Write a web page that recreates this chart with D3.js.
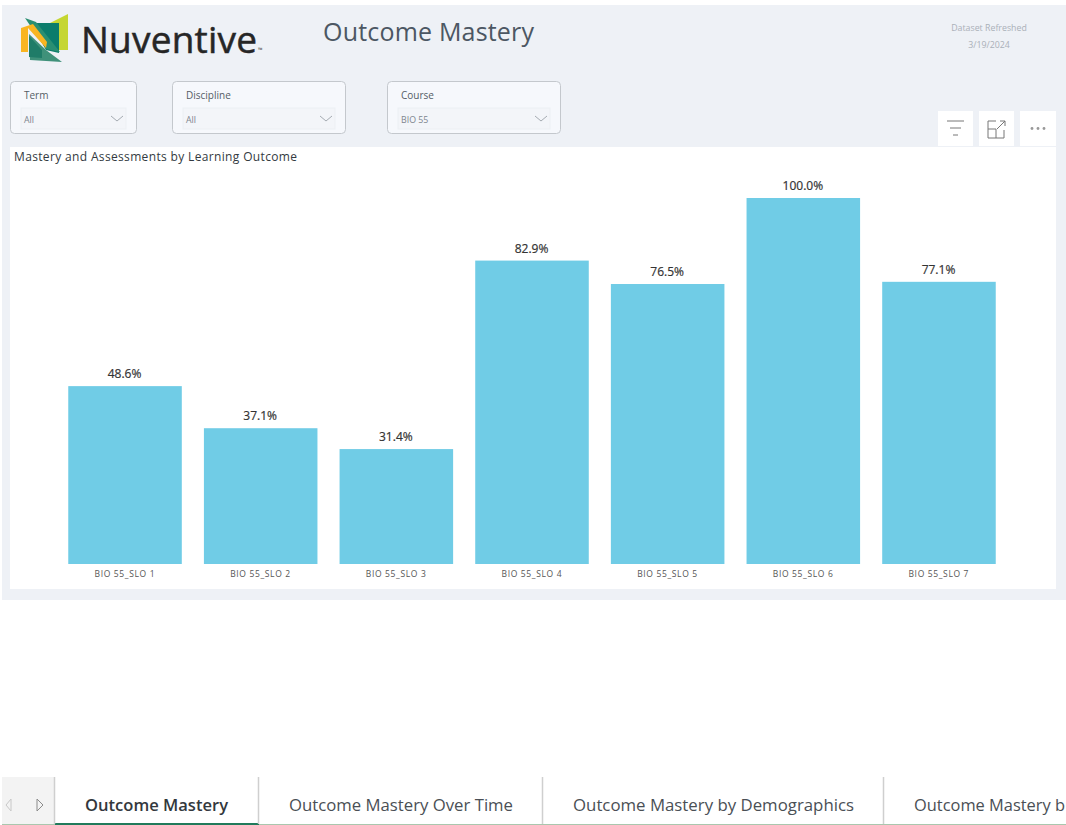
<!DOCTYPE html>
<html><head><meta charset="utf-8">
<script src="https://cdn.jsdelivr.net/npm/d3@7"></script>
<style>html,body{margin:0;padding:0;background:#fff;overflow:hidden}svg{display:block}text{font-family:"Open Sans","Noto Sans",sans-serif}</style>
</head><body><svg id="c" width="1066" height="825"></svg>
<script>
const categories=["BIO 55_SLO 1","BIO 55_SLO 2","BIO 55_SLO 3","BIO 55_SLO 4","BIO 55_SLO 5","BIO 55_SLO 6","BIO 55_SLO 7"];
const mastery=[48.6,37.1,31.4,82.9,76.5,100.0,77.1];
const filterLabels=["Term","Discipline","Course"];
const filterValues=["All","All","BIO 55"];
const tabLabels=["Outcome Mastery","Outcome Mastery Over Time","Outcome Mastery by Demographics","Outcome Mastery b"];
const filterBoxes=[[10,127],[172,174],[387,174]];
const tabStarts=[55,259,543,884];
const tabTextX=[85,289,573,914];
const tabTextW=[143,224,281,151];

const svg=d3.select("#c");
const txt=(x,y,s,size,fill,anchor="start",weight=400)=>svg.append("text").attr("x",x).attr("y",y).attr("font-size",size).attr("fill",fill).attr("text-anchor",anchor).attr("font-weight",weight).text(s);

svg.append("rect").attr("x",2).attr("y",5).attr("width",1064).attr("height",595).attr("fill","#eef1f6");
svg.append("rect").attr("x",10).attr("y",147).attr("width",1046).attr("height",442).attr("fill","#fff");

// logo
const logo=svg.append("g");
logo.append("path").attr("d","M46 25L68 14V50H57Z").attr("fill","#c5d632");
logo.append("path").attr("d","M31 23H59V53L46 50Z").attr("fill","#0b7c6c");
logo.append("path").attr("d","M25 18L36 22L60 52L46 49Z").attr("fill","#2a8f72");
logo.append("path").attr("d","M29 34L46 50L62 62L30 60Z").attr("fill","#3f917a");
logo.append("path").attr("d","M29 36L42 50L42 58L29 57Z").attr("fill","#1f7c68");
logo.append("path").attr("d","M21 28L33 24L47 42L46 48L28 28V52H21Z").attr("fill","#f9b521");
txt(81,53,"Nuventive",37,"#262626").attr("textLength",176).attr("stroke","#262626").attr("stroke-width",.5);
txt(258,52,"™",6,"#444");

txt(323,41,"Outcome Mastery",25,"#4c5763").attr("textLength",211);
txt(989,31,"Dataset Refreshed",8.8,"#aab0b8","middle");
txt(989,48,"3/19/2024",8.8,"#aab0b8","middle");

// slicers
filterBoxes.forEach(([x,w],i)=>{
  svg.append("rect").attr("x",x+.5).attr("y",81.5).attr("width",w-1).attr("height",52).attr("rx",4).attr("fill","#f6f8fc").attr("stroke","#c4c8cd");
  txt(x+14,99,filterLabels[i],10,"#555d66");
  svg.append("rect").attr("x",x+11).attr("y",108).attr("width",w-22).attr("height",21).attr("fill","#f3f5f9").attr("stroke","#eceff3");
  txt(x+14,123,filterValues[i],8.8,"#7d858e");
  const cx=x+w-20;
  svg.append("path").attr("d",`M${cx-6} 116L${cx} 121L${cx+6} 116`).attr("fill","none").attr("stroke","#a5abb2");
});

// toolbar
[[938,35],[979,35],[1020,36]].forEach(([x,w])=>svg.append("rect").attr("x",x).attr("y",111).attr("width",w).attr("height",35).attr("fill","#fff"));
svg.append("path").attr("d","M947 121H964M950 128H961M953 135H958").attr("stroke","#777").attr("fill","none");
svg.append("path").attr("d","M996 121H988V138H1004V130M988 129H996V138M997 129L1005 121M1000 121H1005V126").attr("stroke","#777").attr("fill","none");
[1032,1038,1044].forEach(x=>svg.append("circle").attr("cx",x).attr("cy",128.5).attr("r",1.4).attr("fill","#999"));

// chart
txt(14,161,"Mastery and Assessments by Learning Outcome",12,"#333a41").attr("textLength",283);
const x=d3.scaleBand().domain(categories).range([57.2,1006.8]).paddingInner(.163).paddingOuter(.0815);
const y=d3.scaleLinear().domain([0,100]).range([564,198]);
const data=categories.map((c,i)=>({c,v:mastery[i]}));
svg.append("g").selectAll("rect").data(data).join("rect")
  .attr("x",d=>x(d.c)).attr("y",d=>y(d.v)).attr("width",x.bandwidth()).attr("height",d=>y(0)-y(d.v)).attr("fill","#70cce6");
svg.append("g").selectAll("text").data(data).join("text")
  .attr("x",d=>x(d.c)+x.bandwidth()/2-.5).attr("y",d=>y(d.v)-8).attr("text-anchor","middle")
  .attr("font-size",12).attr("fill","#333").attr("stroke","#333").attr("stroke-width",.2).text(d=>d.v.toFixed(1)+"%");
const ax=svg.append("g").attr("transform","translate(0,564)").call(d3.axisBottom(x).tickSize(0).tickPadding(7));
ax.select(".domain").remove();
ax.selectAll("text").attr("font-size",8.5).attr("fill","#555").attr("textLength",60).attr("dx",-.5).style("font-family",'"Open Sans",sans-serif');

// tabs
svg.append("rect").attr("x",2).attr("y",777).attr("width",52).attr("height",47).attr("fill","#f3f3f3");
svg.append("path").attr("d","M11 799L6 805L11 811Z").attr("fill","none").attr("stroke","#c8c8c8");
svg.append("path").attr("d","M37 799L43 805L37 811Z").attr("fill","none").attr("stroke","#8b8b8b");
svg.append("line").attr("x1",2).attr("x2",1066).attr("y1",824.5).attr("y2",824.5).attr("stroke","#a9c7ae");
svg.append("line").attr("x1",55).attr("x2",259).attr("y1",824).attr("y2",824).attr("stroke","#217a5b").attr("stroke-width",2);
tabStarts.forEach(s=>svg.append("line").attr("x1",s-.5).attr("x2",s-.5).attr("y1",777).attr("y2",824).attr("stroke","#cfcfcf").attr("stroke-width",1.5));
tabLabels.forEach((t,i)=>txt(tabTextX[i],811,t,16.6,i?"#4a4f55":"#33383d","start",i?400:600).attr("textLength",tabTextW[i]).attr("lengthAdjust","spacingAndGlyphs"));
</script></body></html>
